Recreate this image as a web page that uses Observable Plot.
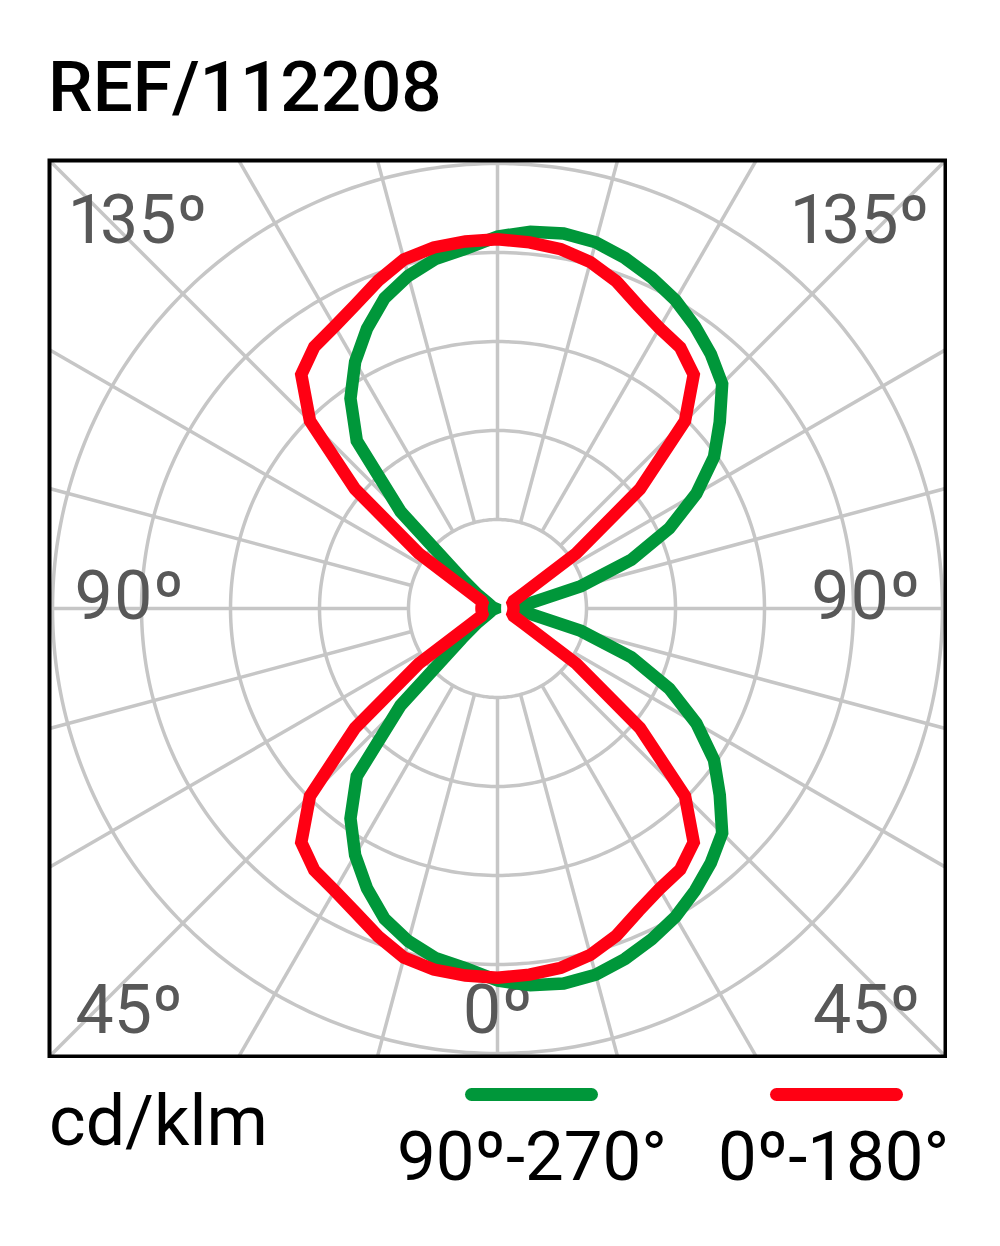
<!DOCTYPE html>
<html><head><meta charset="utf-8">
<script src="https://cdn.jsdelivr.net/npm/d3@7"></script>
<script src="https://cdn.jsdelivr.net/npm/@observablehq/plot@0.6"></script>
<style>
html,body{margin:0;padding:0;background:#fff;}
#page{position:relative;width:1000px;height:1246px;font-family:Roboto,"Noto Sans",sans-serif;overflow:hidden;background:#fff;}
.t{position:absolute;line-height:1;white-space:nowrap;color:#000;}
#chart{position:absolute;left:47px;top:158px;}
.sw{position:absolute;height:13px;border-radius:6.5px;}
</style></head><body>
<div id="page">
  <div class="t" id="title" style="left:48px;top:51px;font-size:71px;font-weight:500;"></div>
  <div id="chart"></div>
  <div class="t" id="unit" style="left:49px;top:1086px;font-size:70px;"></div>
  <div class="sw" id="sw0" style="left:465px;top:1088px;width:133px;"></div>
  <div class="sw" id="sw1" style="left:770px;top:1088px;width:133px;"></div>
  <div class="t" id="lg0" style="left:397px;top:1122px;font-size:69px;"></div>
  <div class="t" id="lg1" style="left:718px;top:1122px;font-size:69px;"></div>
</div>
<script>
// ---------- data ----------
const title = "REF/112208";
const unit = "cd/klm";
const seriesNames = ["90º-270°", "0º-180°"];
const seriesColors = ["#00973a", "#ff0013"];
const angles = [0,5,10,15,20,25,30,35,40,45,50,55,60,65,70,75,80,85,90,
                95,100,105,110,115,120,125,130,135,140,145,150,155,160,165,170,175,180];
// C0 plane (right half) and C180 plane (left half), cd/klm
const c0   = [415,413,410,403,391,375,364,358,343,298,209,108,34,20,18,18,18,18,18,
              18,18,18,18,20,34,108,209,298,343,358,364,375,391,403,410,413,415];
const c180 = [415,414,412,406,392,377,366,359,343,298,209,108,34,20,18,18,18,18,18,
              18,18,18,18,20,34,108,209,298,343,359,366,377,392,406,412,414,415];
// C90 plane (right half) and C270 plane (left half), cd/klm
const c90  = [418,425,428,426,419,410,400,387,373,357,326,297,258,213,160,97,40,27,20,
              27,40,97,160,213,258,297,326,357,373,387,400,410,419,426,428,425,418];
const c270 = [418,406,399,387,371,347,320,288,246,154,52,28,13,9,7,6,4,3,3,
              3,4,6,7,9,13,28,52,154,246,288,320,347,371,387,399,406,418];
const ringValues = [100,200,300,400,500];
const spokeAngles = [0,15,30,45,60,75,90,105,120,135,150,165,180,195,210,225,240,255,270,285,300,315,330,345];
const angleLabels = {topLeft:"135º", topRight:"135º", left:"90º", right:"90º", bottomLeft:"45º", bottomRight:"45º", bottom:"0º"};

// ---------- helpers ----------
const rad = a => a * Math.PI / 180;
function half(values, side, series) {
  return values.map((v, i) => ({series, angle: angles[i], value: v,
    x: side * v * Math.sin(rad(angles[i])), y: -v * Math.cos(rad(angles[i]))}));
}
function loop(right, left, series) {
  const pts = [...half(right, 1, series), ...half(left, -1, series).reverse()];
  pts.push(pts[0]);
  return pts;
}
const green = loop(c90, c270, seriesNames[0]);
const red = loop(c0, c180, seriesNames[1]);

const rings = ringValues.flatMap(r => d3.range(0, 361, 1).map(a => ({r, x: r * Math.sin(rad(a)), y: r * Math.cos(rad(a))})));
const spokes = spokeAngles.map(a => ({a,
  x1: ringValues[0] * Math.sin(rad(a)), y1: -ringValues[0] * Math.cos(rad(a)),
  x2: 2000 * Math.sin(rad(a)), y2: -2000 * Math.cos(rad(a))}));

const R = 503.4; // half-extent of the square frame, in cd/klm
const labelStyle = {fontSize: 68, fill: "#585858", fontFamily: "Roboto", lineAnchor: "bottom", fontVariant: "proportional-nums"};

const chart = Plot.plot({
  width: 900, height: 900, margin: 2,
  style: {fontFamily: "Roboto", background: "white"},
  x: {domain: [-R, R], axis: null},
  y: {domain: [-R, R], axis: null},
  marks: [
    Plot.line(rings, {x: "x", y: "y", z: "r", stroke: "#c6c6c6", strokeWidth: 3.5, clip: "frame"}),
    Plot.link(spokes, {x1: "x1", y1: "y1", x2: "x2", y2: "y2", stroke: "#c6c6c6", strokeWidth: 3.5, clip: "frame"}),
    Plot.text([angleLabels.topLeft], {...labelStyle, text: d => d, frameAnchor: "top-left", textAnchor: "start", dx: 21, dy: 82}),
    Plot.text([angleLabels.topRight], {...labelStyle, text: d => d, frameAnchor: "top-right", textAnchor: "end", dx: -16, dy: 82}),
    Plot.text([angleLabels.left], {...labelStyle, text: d => d, frameAnchor: "left", textAnchor: "start", dx: 25, dy: 10}),
    Plot.text([angleLabels.right], {...labelStyle, text: d => d, frameAnchor: "right", textAnchor: "end", dx: -25, dy: 10}),
    Plot.text([angleLabels.bottomLeft], {...labelStyle, text: d => d, frameAnchor: "bottom-left", textAnchor: "start", dx: 26, dy: -24}),
    Plot.text([angleLabels.bottomRight], {...labelStyle, text: d => d, frameAnchor: "bottom-right", textAnchor: "end", dx: -25, dy: -24}),
    Plot.text([angleLabels.bottom], {...labelStyle, text: d => d, frameAnchor: "bottom", textAnchor: "middle", dx: 0, dy: -24}),
    Plot.line(green, {x: "x", y: "y", stroke: seriesColors[0], strokeWidth: 12.5, strokeLinejoin: "miter", strokeMiterlimit: 3, curve: "linear-closed"}),
    Plot.line(red, {x: "x", y: "y", stroke: seriesColors[1], strokeWidth: 12.5, strokeLinejoin: "miter", strokeMiterlimit: 3, curve: "linear-closed"}),
    Plot.frame({stroke: "black", strokeWidth: 4})
  ]
});
document.getElementById("chart").appendChild(chart);
document.getElementById("title").textContent = title;
document.getElementById("unit").textContent = unit;
document.getElementById("lg0").textContent = seriesNames[0];
document.getElementById("lg1").textContent = seriesNames[1];
document.getElementById("sw0").style.background = seriesColors[0];
document.getElementById("sw1").style.background = seriesColors[1];
</script>
</body></html>
